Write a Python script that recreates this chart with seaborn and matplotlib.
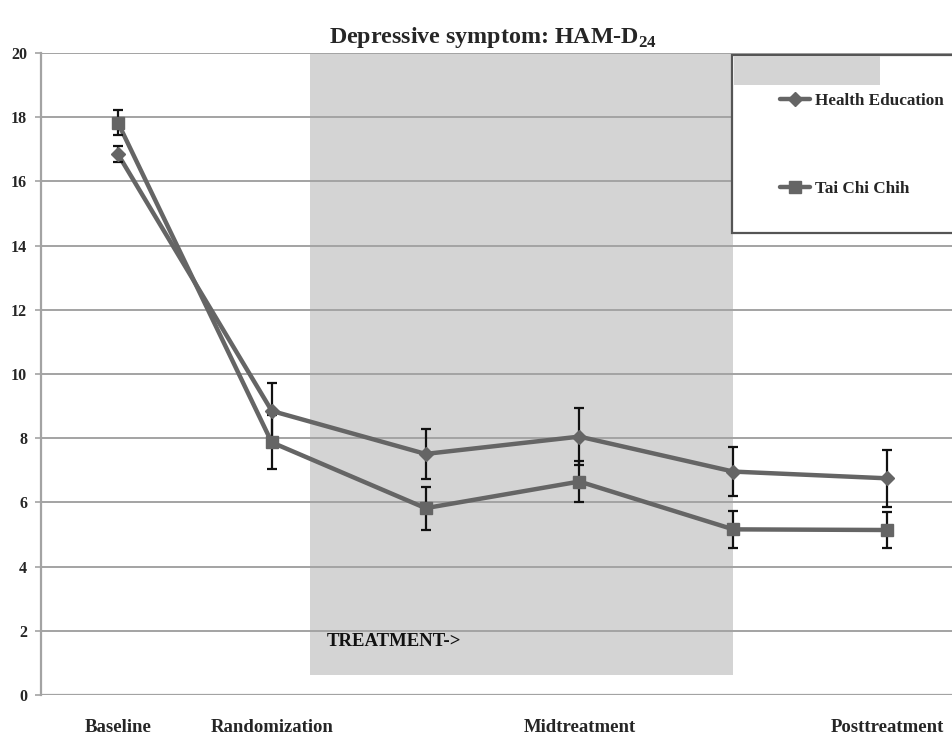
import numpy as np
import pandas as pd
import matplotlib
matplotlib.use("Agg")
import matplotlib.pyplot as plt
from matplotlib.patches import Rectangle
import seaborn as sns

# values
timepoints = ["Baseline", "Randomization", "Week 4", "Midtreatment", "Week 12", "Posttreatment"]
tick_labels = ["Baseline", "Randomization", "", "Midtreatment", "", "Posttreatment"]
health_education = [16.85, 8.85, 7.51, 8.05, 6.96, 6.75]
health_education_err = [0.25, 0.86, 0.78, 0.88, 0.77, 0.88]
tai_chi_chih = [17.83, 7.87, 5.82, 6.65, 5.16, 5.14]
tai_chi_chih_err = [0.38, 0.84, 0.67, 0.65, 0.57, 0.57]
y_ticks = [0, 2, 4, 6, 8, 10, 12, 14, 16, 18, 20]

LINE = "#656565"
SHADE = "#d4d4d4"
GRID = "#a3a3a3"

sns.set_theme(style="white")
plt.rcParams["font.family"] = ["Liberation Serif", "DejaVu Serif"]
plt.rcParams["font.weight"] = "bold"
plt.rcParams["mathtext.fontset"] = "custom"
plt.rcParams["mathtext.rm"] = "Liberation Serif:bold"
plt.rcParams["mathtext.bf"] = "Liberation Serif:bold"

W, H = 952, 739
fig = plt.figure(figsize=(W / 100, H / 100), dpi=100)
ax = fig.add_axes([41 / W, 1 - 695 / H, 923 / W, 642 / H])

pos = np.arange(len(timepoints))
df = pd.DataFrame({
    "pos": np.concatenate([pos, pos]),
    "score": health_education + tai_chi_chih,
    "group": ["Health Education"] * len(pos) + ["Tai Chi Chih"] * len(pos),
})

# treatment period shading
ax.add_patch(Rectangle((1.25, 0.62), 2.75, 20 - 0.62, facecolor=SHADE,
                       edgecolor="none", zorder=0))

for v in y_ticks[1:]:
    ax.axhline(v, color=GRID, lw=1.4, zorder=1)
ax.axhline(0, color=GRID, lw=1.6, zorder=1)

sns.lineplot(data=df, x="pos", y="score", hue="group", style="group",
             palette=[LINE, LINE], markers={"Health Education": "D", "Tai Chi Chih": "s"},
             dashes=False, markersize=0, lw=3.2, ax=ax, legend=False, zorder=3)

ax.errorbar(pos, health_education, yerr=health_education_err, fmt="none",
            ecolor="#111111", elinewidth=1.6, capsize=3.5, capthick=1.6, zorder=4)
ax.errorbar(pos, tai_chi_chih, yerr=tai_chi_chih_err, fmt="none",
            ecolor="#111111", elinewidth=1.6, capsize=3.5, capthick=1.6, zorder=4)

ax.plot(pos, health_education, ls="none", marker="D", ms=7, color=LINE,
        mec=LINE, zorder=5)
ax.plot(pos, tai_chi_chih, ls="none", marker="s", ms=9, color=LINE,
        mec=LINE, zorder=5)

ax.text(1.36, 1.68, "TREATMENT->", fontsize=13.5, fontweight="bold",
        va="center", ha="left", color="#111111", zorder=6)

ax.set_xlim(-0.5, 5.5)
ax.set_ylim(0, 20)
ax.set_yticks(y_ticks)
ax.set_yticklabels([str(v) for v in y_ticks], fontsize=11.5, fontweight="bold")
ax.set_xticks(pos)
ax.set_xticklabels(tick_labels, fontsize=13.5, fontweight="bold")
ax.tick_params(axis="x", length=0, pad=17)
ax.tick_params(axis="y", length=4, width=1.2, color=GRID, pad=6, left=True)
ax.set_xlabel("")
ax.set_ylabel("")
for s in ["top", "right", "bottom"]:
    ax.spines[s].set_visible(False)
ax.spines["left"].set_color(GRID)
ax.spines["left"].set_linewidth(1.6)
ax.spines["left"].set_zorder(2)

fig.text(493 / W, 1 - 37 / H, r"Depressive symptom: HAM-D$_{24}$",
         fontsize=17.3, fontweight="bold", ha="center", va="center")

# legend box (runs off the right edge like the original)
fig.patches.append(Rectangle((732 / W, 1 - 233 / H), 240 / W, 178 / H,
                             transform=fig.transFigure, facecolor="white",
                             edgecolor="#555555", lw=1.6, zorder=10))
fig.patches.append(Rectangle((733.5 / W, 1 - 85 / H), 146.5 / W, 28.5 / H,
                             transform=fig.transFigure, facecolor=SHADE,
                             edgecolor="none", zorder=11))

he_handle = plt.Line2D([], [], color=LINE, lw=3.2, marker="D", ms=7)
tcc_handle = plt.Line2D([], [], color=LINE, lw=3.2, marker="s", ms=9)
leg = fig.legend([he_handle, tcc_handle], ["Health Education", "Tai Chi Chih"],
                 loc="upper left", bbox_to_anchor=(765 / W, 1 - 78 / H),
                 frameon=False, handlelength=1.75, handletextpad=0.25,
                 labelspacing=4.2, prop={"weight": "bold", "size": 12.3})
leg.set_zorder(12)

fig.savefig("out.png", dpi=100)
